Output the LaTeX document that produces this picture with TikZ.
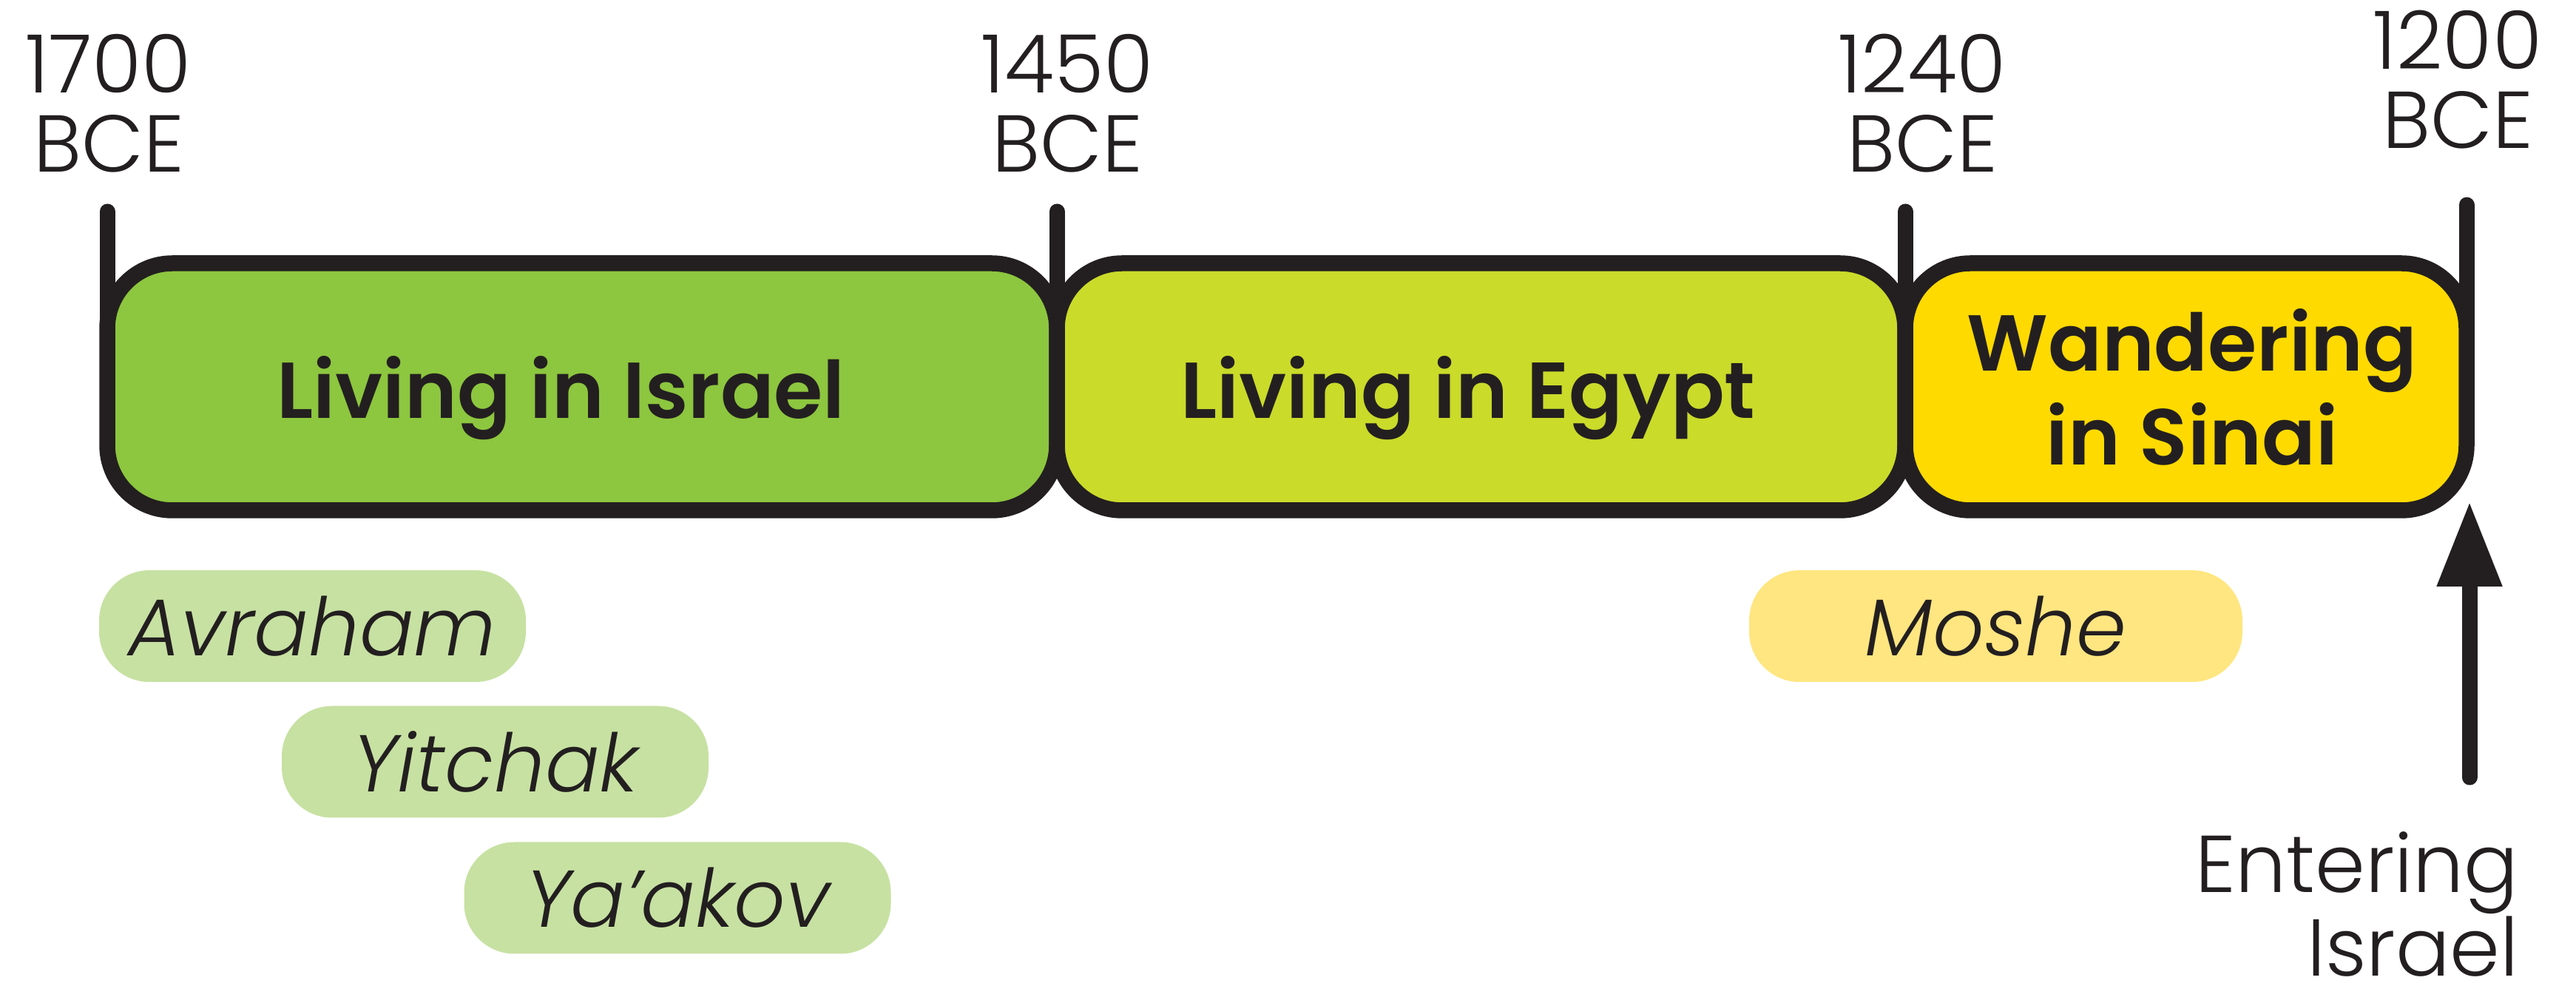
\documentclass[tikz,border=0pt]{standalone}
\usepackage{fontspec}
\usetikzlibrary{arrows.meta}
\newfontfamily\datefont{Poppins Light}
\newfontfamily\periodfont{Poppins SemiBold}
\newfontfamily\namefont{Poppins Light Italic}
\definecolor{ink}{HTML}{231F20}
\definecolor{israelgreen}{HTML}{8DC63F}
\definecolor{egyptgreen}{HTML}{CADB2A}
\definecolor{sinaiyellow}{HTML}{FEDA00}
\definecolor{namegreen}{HTML}{C7E1A2}
\definecolor{mosheyellow}{HTML}{FFE680}
\tikzset{
  period/.style={draw=ink, line width=2.15mm, rounded corners=8.8mm},
  tickline/.style={draw=ink, line width=2.1mm, line cap=round},
  datelabel/.style={align=center, inner sep=0pt, anchor=south, text=ink,
    font=\datefont\fontsize{31}{30.4}\selectfont},
  periodlabel/.style={inner sep=0pt, text=ink,
    font=\periodfont\fontsize{30.5}{36}\selectfont},
  person/.style={rounded corners=6.8mm, minimum width=5.77cm, minimum height=1.51cm,
    inner sep=0pt, text=ink, font=\namefont\fontsize{31}{31}\selectfont},
}
\begin{document}
\begin{tikzpicture}
\useasboundingbox (0,0) rectangle (34.83,-13.29);

\draw[period, fill=israelgreen] (1.45,-3.56) rectangle (14.29,-6.90);
\draw[period, fill=egyptgreen] (14.29,-3.56) rectangle (25.76,-6.90);
\draw[period, fill=sinaiyellow] (25.76,-3.56) rectangle (33.35,-6.90);

\draw[tickline] (1.45,-2.86) -- (1.45,-4.5);
\draw[tickline] (14.29,-2.86) -- (14.29,-4.5);
\draw[tickline] (25.76,-2.86) -- (25.76,-4.5);
\draw[tickline] (33.35,-2.77) -- (33.35,-4.5);

\node[datelabel] (d1700) at (1.47,-2.34) {1700\\BCE};
\node[datelabel] (d1450) at (14.43,-2.34) {1450\\BCE};
\node[datelabel] (d1240) at (25.99,-2.34) {1240\\BCE};
\node[datelabel] (d1200) at (33.23,-2.02) {1200\\BCE};

\node[periodlabel, anchor=base] (israel) at (7.585,-5.66) {Living in Israel};
\node[periodlabel, anchor=base] (egypt) at (19.85,-5.66) {Living in Egypt};
\node[periodlabel, align=center, anchor=south] (sinai) at (29.64,-6.30) {Wandering\\in Sinai};

\node[person, fill=namegreen] (avraham) at (4.225,-8.465) {Avraham};
\node[person, fill=namegreen] (yitchak) at (6.695,-10.30) {Yitchak};
\node[person, fill=namegreen] (yaakov) at (9.16,-12.14) {Ya’akov};
\node[person, fill=mosheyellow, minimum width=6.67cm] (moshe) at (26.985,-8.465) {Moshe};

\node[datelabel, align=right, anchor=north east, font=\datefont\fontsize{31}{29}\selectfont] (entering) at (34.06,-11.24) {Entering\\Israel};
\coordinate (border) at (33.39,-6.78);
\draw[tickline, -{Triangle[length=11.5mm,width=8.3mm]}, shorten <=7.3mm] (entering.north -| border) -- (border);
\end{tikzpicture}
\end{document}
